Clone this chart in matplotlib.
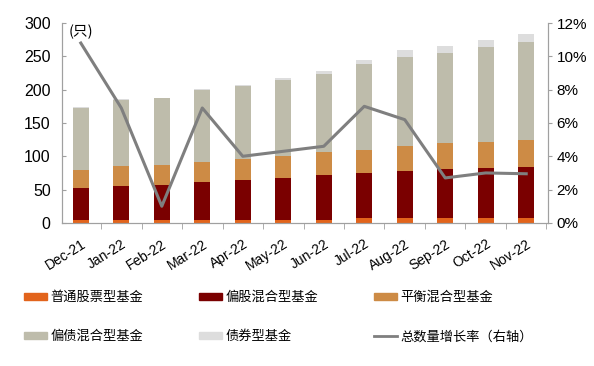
import numpy as np
import matplotlib
matplotlib.use("Agg")

import matplotlib.pyplot as plt
import matplotlib.patches as mpatches
import matplotlib.lines as mlines
from matplotlib.ticker import FixedLocator, PercentFormatter

plt.rcParams['font.family'] = ['Liberation Sans', 'Noto Sans CJK SC', 'DejaVu Sans']

months = ["Dec-21", "Jan-22", "Feb-22", "Mar-22", "Apr-22", "May-22",
          "Jun-22", "Jul-22", "Aug-22", "Sep-22", "Oct-22", "Nov-22"]

# fund counts by type (只)
stock_fund = [5, 5, 4, 4, 5, 5, 5, 7, 7, 7, 7, 8]
equity_mixed = [47, 51, 53, 58, 60, 62, 67, 68, 71, 74, 76, 76]
balanced_mixed = [28, 29, 30, 30, 31, 34, 34, 35, 38, 39, 39, 41]
bond_mixed = [93, 100, 100, 108, 109, 113, 118, 128, 133, 135, 142, 146]
bond_fund = [1, 1, 1, 1, 2, 4, 4, 7, 11, 11, 10, 12]

# total count growth rate, % (right axis)
growth = [10.8, 6.9, 1.0, 6.9, 4.0, 4.3, 4.6, 7.0, 6.2, 2.7, 3.0, 2.95]

series = [
    ("普通股票型基金", stock_fund, "#E2641C"),
    ("偏股混合型基金", equity_mixed, "#7A0000"),
    ("平衡混合型基金", balanced_mixed, "#CD8B45"),
    ("偏债混合型基金", bond_mixed, "#BEBCAB"),
    ("债券型基金", bond_fund, "#DDDDDD"),
]

fig = plt.figure(figsize=(5.94, 3.66), dpi=100)
ax = fig.add_axes([0.104, 0.391, 0.818, 0.546])

x = np.arange(len(months))
bottom = np.zeros(len(months))
handles = []
for label, vals, color in series:
    ax.bar(x, vals, width=0.4, bottom=bottom, color=color, linewidth=0)
    bottom += np.array(vals)
    handles.append(mpatches.Patch(color=color, label=label))

ax.set_xlim(-0.47, 11.53)
ax.set_ylim(0, 300)
ax.set_yticks(np.arange(0, 301, 50))
ax.set_xticks(x)
ax.set_xticklabels(months, rotation=32, ha="right", rotation_mode="anchor")
ax.xaxis.set_minor_locator(FixedLocator(np.arange(-0.5, 12, 1)))
ax.tick_params(axis="x", which="major", length=0, pad=10, labelsize=10)
ax.tick_params(axis="x", which="minor", length=4, color="#A0A0A0", direction="out")
ax.tick_params(axis="y", length=3, color="#A0A0A0", labelsize=11.5,
               direction="in", pad=8)

ax2 = ax.twinx()
ax2.plot(x, growth, color="#7F7F7F", linewidth=2.2)
ax2.set_ylim(0, 12)
ax2.set_yticks(np.arange(0, 13, 2))
ax2.yaxis.set_major_formatter(PercentFormatter(decimals=0))
ax2.tick_params(axis="y", length=3, color="#A0A0A0", labelsize=11, direction="out")

for a in (ax, ax2):
    a.spines["top"].set_visible(False)
    for s in ("left", "right", "bottom"):
        a.spines[s].set_color("#A0A0A0")
        a.spines[s].set_linewidth(0.8)

ax.text(0.015, 0.955, "(只)", transform=ax.transAxes, fontsize=10.5,
        ha="left", va="center", family=["Noto Sans CJK SC", "DejaVu Sans"])

handles.append(mlines.Line2D([], [], color="#7F7F7F", linewidth=2,
                             label="总数量增长率（右轴）"))
order = [0, 3, 1, 4, 2, 5]
fig.legend([handles[i] for i in order], [handles[i].get_label() for i in order],
           ncol=3, loc="upper left", bbox_to_anchor=(0.02, 0.238),
           frameon=False, handlelength=1.75, handleheight=0.45,
           handletextpad=0.25, columnspacing=4.25, labelspacing=2.0,
           prop={"family": ["Noto Sans CJK SC", "DejaVu Sans"], "size": 9.5})

fig.savefig("out.png", dpi=100)
plt.close(fig)
